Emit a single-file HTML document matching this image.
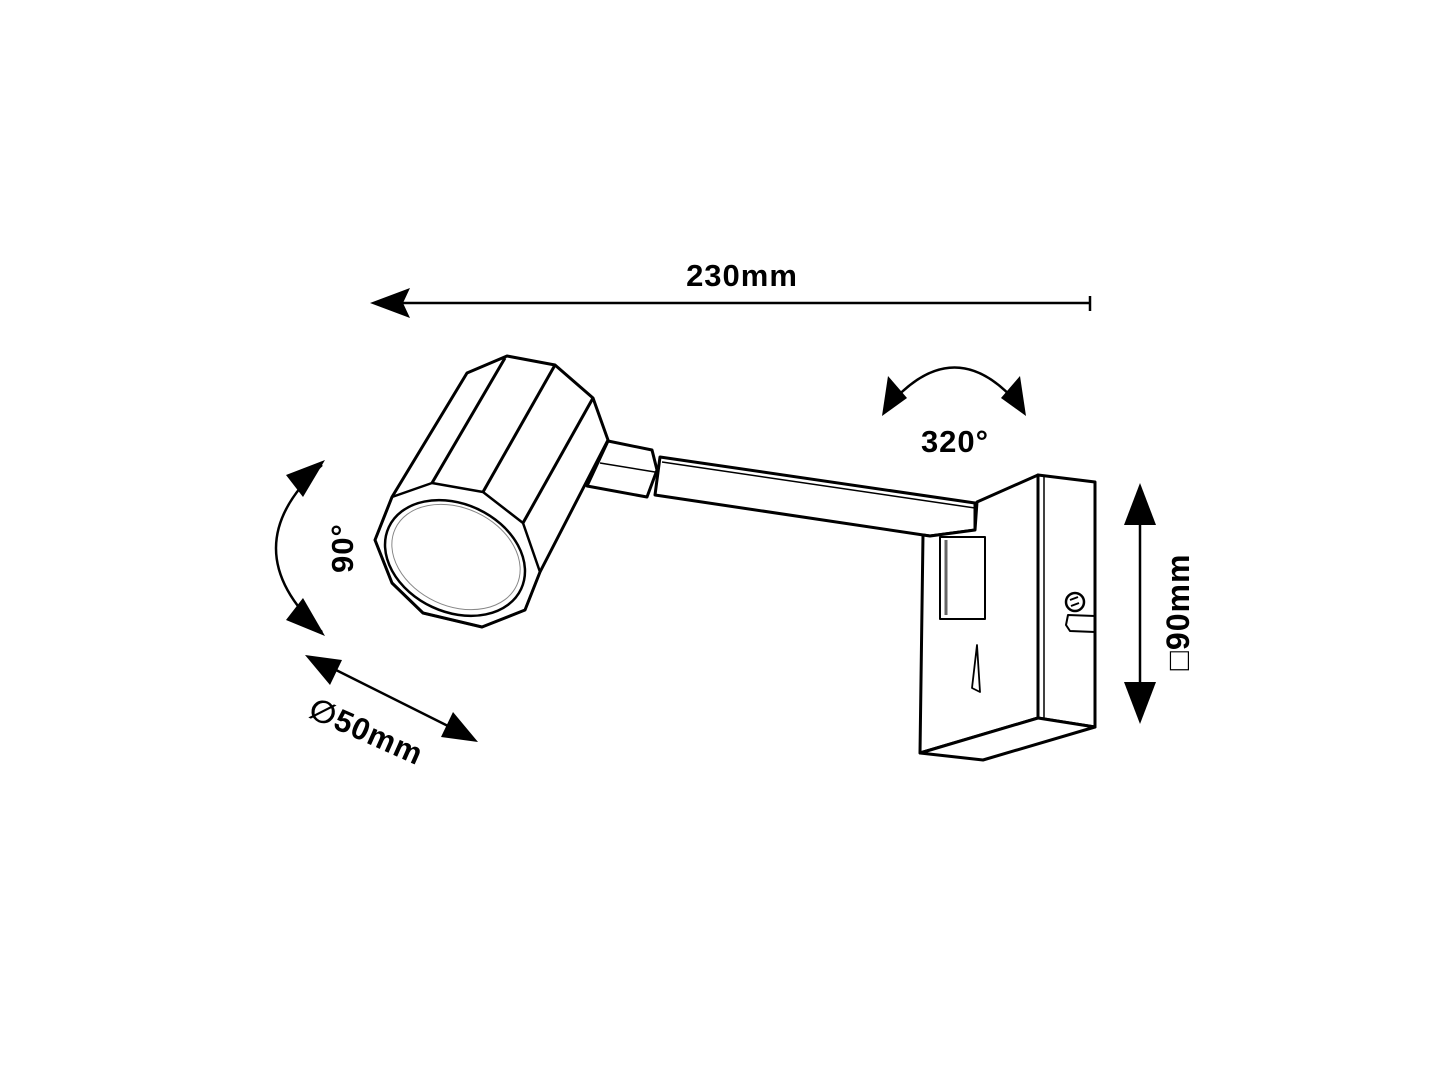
<!DOCTYPE html>
<html><head><meta charset="utf-8"><style>
html,body{margin:0;padding:0;background:#fff;width:1439px;height:1080px;overflow:hidden}
text{font-family:"Liberation Sans","DejaVu Sans",sans-serif;font-weight:bold;fill:#000;letter-spacing:1px}
</style></head><body>
<svg width="1439" height="1080" viewBox="0 0 1439 1080" xmlns="http://www.w3.org/2000/svg">
<g fill="none" stroke="#000" stroke-width="3" stroke-linejoin="round">
<polygon points="660,457 975,503 975,530 930,536 655,495" fill="#fff"/>
<line x1="662" y1="462" x2="975" y2="508" stroke-width="1.5"/>
<polygon points="608,441 652,450 657,470 647,497 587,486" fill="#fff"/>
<line x1="600" y1="463" x2="655" y2="472" stroke-width="1.5"/>
<polygon points="507,356 555,365 593,398 608,440 540,572 525,610 482,627 423,613 392,583 375,540 392,497 467,373" fill="#fff"/>
<line x1="432" y1="483" x2="505" y2="358"/>
<line x1="483" y1="492" x2="555" y2="365"/>
<line x1="523" y1="523" x2="593" y2="398"/>
<polygon points="392,497 432,483 483,492 523,523 540,572 525,610 482,627 423,613 392,583 375,540" stroke-width="2.5"/>
<ellipse cx="455" cy="558" rx="73" ry="54" transform="rotate(25 455 558)" stroke-width="2.5"/>
<ellipse cx="456" cy="557" rx="67" ry="49" transform="rotate(25 456 557)" stroke-width="1" stroke="#888"/>
<polygon points="977,502 1038,475 1038,718 920,753 923,535 930,536 975,530" fill="#fff"/>
<polygon points="1038,475 1095,482 1095,727 1038,718" fill="#fff"/>
<polygon points="920,753 983,760 1095,727 1038,718" fill="#fff"/>
<line x1="1044" y1="477" x2="1044" y2="718" stroke-width="1.5"/>
<rect x="940" y="537" width="45" height="82" stroke-width="2"/>
<line x1="946" y1="540" x2="946" y2="615" stroke-width="3" stroke="#666"/>
<circle cx="1075" cy="602" r="9" stroke-width="2.5"/>
<path d="M1070,600 l8,-3 M1071,606 l8,-3" stroke-width="2"/>
<path d="M1095,616 L1068,615 L1066,625 L1070,631 L1095,632" stroke-width="2"/>
<path d="M977,645 L972,688 L980,692 Z" stroke-width="1.8"/>
<line x1="400" y1="303" x2="1090" y2="303" stroke-width="2.5"/>
<line x1="1090" y1="296" x2="1090" y2="311" stroke-width="2.5"/>
<path d="M885,410 Q955,325 1023,410" stroke-width="2.5"/>
<path d="M322,465 Q230,548 322,632" stroke-width="2.5"/>
<line x1="320" y1="662" x2="462" y2="733" stroke-width="2.5"/>
<line x1="1140" y1="515" x2="1140" y2="695" stroke-width="2.5"/>
</g>
<g fill="#000">
<polygon points="370,303 410,288 403,303 410,318"/>
<polygon points="882,416 888,376 907,398"/>
<polygon points="1026,416 1020,376 1001,398"/>
<polygon points="325,460 286,475 303,497"/>
<polygon points="325,636 286,620 303,598"/>
<polygon points="305,655 342,660 330,685"/>
<polygon points="478,742 441,737 453,712"/>
<polygon points="1140,483 1124,525 1156,525"/>
<polygon points="1140,724 1124,682 1156,682"/>
</g>
<text x="742" y="286" font-size="31" text-anchor="middle">230mm</text>
<text x="955" y="452" font-size="31" text-anchor="middle">320°</text>
<text transform="translate(353,548) rotate(-90)" font-size="31" text-anchor="middle">90°</text>
<text transform="translate(362,741) rotate(24)" font-size="31" text-anchor="middle">∅50mm</text>
<text transform="translate(1189,612) rotate(-90)" font-size="32" text-anchor="middle">□90mm</text>
</svg>
</body></html>
